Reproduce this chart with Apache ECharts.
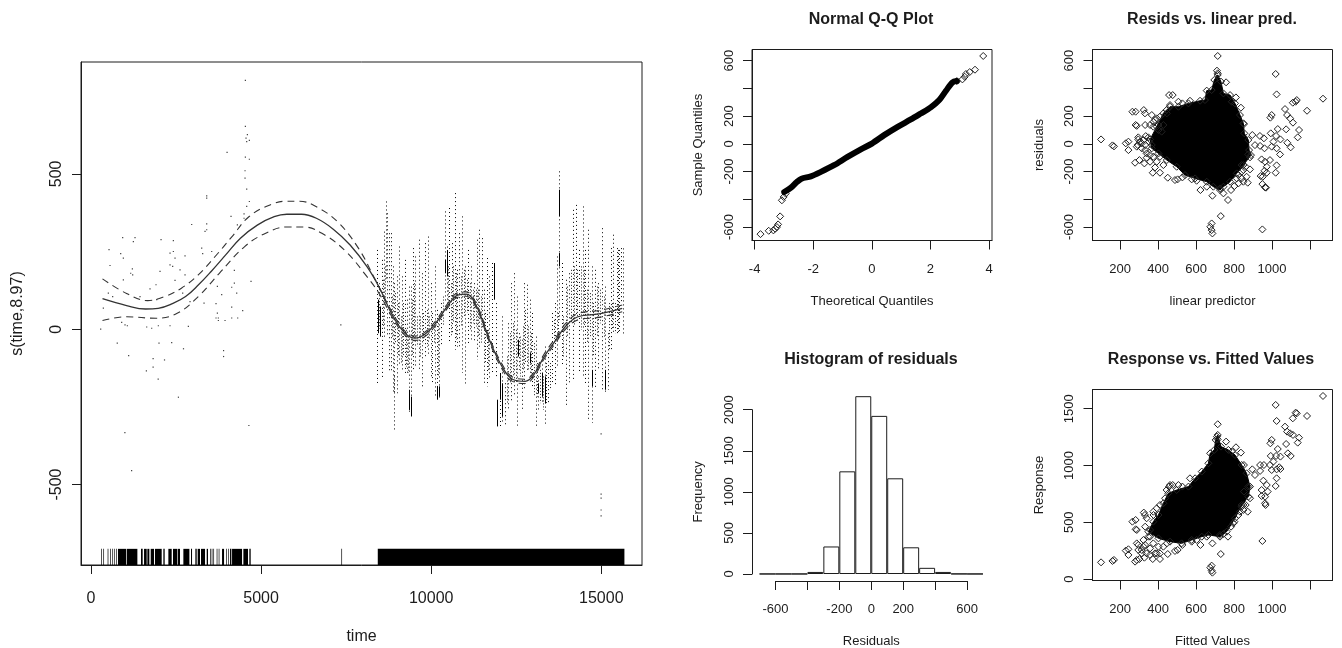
<!DOCTYPE html>
<html><head><meta charset="utf-8">
<style>html,body{margin:0;padding:0;background:#fff}#c{width:1342px;height:648px}</style>
<script src="https://cdn.jsdelivr.net/npm/echarts@6/dist/echarts.min.js"></script>
</head><body><div id="c"></div>
<script>
// ---- main smooth panel
const fitCurve=[[338,98],[1045,76],[1603,65],[1975,67],[2409,83],[2781,105],[3153,142],[3525,185],[3959,239],[4393,293],[4889,335],[5385,362],[5757,370],[6191,370],[6625,357],[7121,322],[7617,271],[8113,201],[8485,132],[8857,46],[9229,-13],[9539,-29],[9787,-19],[10097,14],[10469,73],[10779,110],[11027,113],[11337,73],[11709,-34],[12081,-120],[12391,-161],[12763,-168],[13011,-147],[13321,-88],[13669,-34],[13941,8],[14313,40],[14933,49],[15615,67]];
const upperCurve=[[338,162],[1045,115],[1665,92],[2161,105],[2657,132],[3153,175],[3649,234],[4145,298],[4641,362],[5261,400],[5757,412],[6129,412],[6625,394],[7245,346],[7865,260],[8361,158],[8857,54],[9229,-6],[9539,-22],[9787,-12],[10097,22],[10469,80],[10779,117],[11027,120],[11337,80],[11709,-27],[12081,-112],[12391,-154],[12763,-161],[13011,-140],[13321,-80],[13669,-26],[13941,17],[14313,50],[14933,60],[15615,78]];
const lowerCurve=[[338,28],[1045,40],[1913,35],[2533,51],[3153,105],[3773,180],[4517,266],[5137,309],[5757,329],[6253,329],[6873,303],[7493,250],[8113,169],[8485,112],[8857,38],[9229,-20],[9539,-36],[9787,-26],[10097,7],[10469,66],[10779,103],[11027,106],[11337,66],[11709,-41],[12081,-128],[12391,-168],[12763,-175],[13011,-154],[13321,-96],[13669,-42],[13941,-1],[14313,30],[14933,38],[15615,56]];
const partialDots=[[4538,801],[4538,653],[4597,626],[4557,615],[4577,604],[4655,608],[4000,569],[4538,554],[4655,547],[4528,510],[4528,486],[4577,451],[4655,411],[4577,395],[3401,429],[3401,422],[4116,363],[4499,371],[4499,357],[4303,336],[3401,339],[2960,337],[3401,320],[3352,315],[931,295],[1294,295],[1245,282],[2059,288],[2421,285],[530,256],[873,243],[951,229],[2323,245],[2421,250],[2470,229],[2764,236],[3254,261],[3283,243],[3548,250],[559,205],[1216,194],[1167,180],[1225,175],[2323,207],[2401,202],[2029,186],[2617,191],[2764,175],[4214,189],[951,159],[2470,157],[4704,154],[4214,148],[4136,135],[3715,138],[1911,143],[1735,130],[510,116],[637,105],[363,68],[1441,105],[1931,95],[2695,116],[3842,111],[4283,116],[3323,84],[3675,82],[3715,52],[4136,71],[4459,60],[2911,89],[3675,36],[3744,36],[3744,28],[3940,28],[4136,36],[4312,36],[902,22],[1000,14],[1069,11],[1637,7],[1784,3],[1980,11],[2323,11],[2862,9],[285,0],[772,-45],[1107,-85],[1826,-95],[2161,-99],[1826,-122],[1628,-134],[1975,-161],[1999,-45],[2372,-43],[2719,-63],[3897,-69],[3897,-88],[2570,-219],[4641,-310],[996,-333],[1194,-455],[14995,-337],[14995,-531],[14995,-544],[14995,-582],[14995,-601],[7344,14]];
const sparseStripes=[[8417,255,-174],[8544,223,-163],[8613,314,-24],[8662,411,159],[8711,373,-24],[8760,309,-141],[8809,309,-141],[8867,202,-206],[8907,148,-206],[8907,-152,-324],[8985,170,-206],[9063,266,-120],[9152,170,-131],[9220,223,-141],[9279,95,-141],[9338,137,-270],[9397,137,-281],[9475,261,-131],[9534,234,-120],[9642,288,-131],[9720,180,-184],[9818,277,-88],[9916,298,-88],[9985,148,-152],[10024,52,-174],[10102,202,-217],[10161,62,-227],[10239,41,-227],[10288,84,-56],[10406,379,84],[10475,266,62],[10533,390,-45],[10612,277,-13],[10690,438,-66],[10769,191,-56],[10827,309,-56],[10916,363,-141],[11004,202,-184],[11092,255,-45],[11180,202,-34],[11259,148,-45],[11357,288,-99],[11415,320,-56],[11494,293,-2],[11553,127,-174],[11631,229,-184],[11709,170,-163],[11778,213,-141],[11905,84,-152],[12022,-141,-313],[12091,41,-302],[12169,-174,-313],[12267,19,-260],[12345,148,-238],[12443,180,-217],[12522,105,-313],[12581,-13,-131],[12659,-34,-260],[12718,148,-195],[12816,143,-131],[12894,95,-152],[12973,52,-184],[13071,-24,-313],[13149,-152,-260],[13247,-88,-238],[13345,-56,-313],[13423,-77,-238],[13561,52,-174],[13639,84,-184],[13708,234,-120],[13766,508,30],[13835,213,-120],[13953,159,-249],[14051,180,-174],[14168,384,-163],[14256,400,41],[14345,255,-141],[14452,395,-152],[14521,255,-174],[14609,320,-292],[14717,202,-302],[14815,191,-195],[14913,148,-131],[15021,325,-195],[15119,137,-206],[15187,-13,-195],[15275,261,-66],[15354,304,-13],[15452,261,-13],[15521,255,-13],[15579,261,84],[15640,260,-20]];
const midStripes=[[8475,148,2],[8573,159,9],[8642,202,84],[8838,105,-24],[8946,116,-45],[9024,84,-88],[9103,41,-109],[9181,84,-88],[9250,-2,-120],[9308,-24,-141],[9436,95,-88],[9504,148,-45],[9593,41,-56],[9681,41,-88],[9769,52,-45],[9867,62,-56],[9945,41,-34],[10073,9,-45],[10200,19,-152],[10337,105,9],[10504,202,84],[10573,148,-24],[10651,202,19],[10729,180,-34],[10867,170,9],[10965,191,41],[11043,159,52],[11131,148,-2],[11219,127,19],[11317,127,9],[11386,127,-24],[11464,105,-45],[11592,52,-109],[11670,-2,-131],[12218,-88,-238],[12316,-13,-174],[12394,19,-152],[12483,-2,-174],[12620,-24,-152],[12688,9,-131],[12767,62,-109],[12855,9,-131],[12933,-13,-152],[13012,-45,-217],[13110,-109,-217],[13198,-131,-238],[13296,-152,-260],[13384,-109,-238],[13492,-109,-195],[13600,30,-45],[13737,52,-34],[13884,41,-88],[14002,137,-24],[14109,191,19],[14207,202,9],[14296,191,41],[14394,202,-2],[14492,191,9],[14570,127,-45],[14658,116,-24],[14766,84,-88],[14864,137,-24],[14962,127,19],[15070,105,-24],[15227,84,-66],[15305,84,-2],[15403,84,-13],[15481,255,-13]];
const darkStripes=[[8436,95,-13],[8495,73,-24],[9338,-195,-260],[9397,-217,-281],[10161,-184,-227],[10239,-184,-217],[11846,213,95],[10475,255,170],[10406,223,180],[11924,-227,-313],[12022,-141,-227],[12091,-174,-281],[13766,449,363],[13766,245,202],[14717,-131,-184],[15119,-131,-195],[13247,-141,-217],[13345,-152,-238],[12904,-77,-109],[12561,-34,-88],[13149,-174,-206]];
const rugSpans=[[294,314],[363,383],[490,510],[559,579],[628,648],[687,706],[745,765],[794,1029],[1049,1363],[1470,1519],[1559,1637],[1657,1715],[1755,1853],[1882,2078],[2127,2166],[2274,2372],[2411,2539],[2558,2617],[2715,2892],[2940,2970],[3068,3107],[3136,3205],[3234,3352],[3401,3440],[3499,3519],[3548,3568],[3597,3617],[3695,3715],[3754,3774],[3852,3911],[3969,3989],[4028,4047],[4087,4126],[4146,4440],[4479,4616],[4655,4694],[7360,7380],[8430,15680]];
const rugTop=-707;
const mainXTicks=[0,5000,10000,15000], mainYTicks=[-500,0,500];
// ---- Q-Q panel
const qqLine=[[-2.99,-347],[-2.76,-316],[-2.56,-275],[-2.40,-251],[-2.08,-234],[-1.74,-202],[-1.29,-154],[-0.83,-94],[-0.375,-39],[0,2],[0.42,63],[0.88,123],[1.33,176],[1.67,219],[2.01,263],[2.30,316],[2.53,383],[2.75,443],[2.90,453]];
const qqTails=[[-3.80,-651],[-3.52,-627],[-3.36,-624],[-3.30,-612],[-3.24,-600],[-3.20,-581],[-3.13,-523],[-3.07,-407],[-3.01,-383],[-2.94,-359],[2.90,453],[3.09,465],[3.17,484],[3.21,504],[3.34,518],[3.52,535],[3.80,634]];
const qqXTicks=[-4,-2,0,2,4], residYTicks=[-600,-400,-200,0,200,400,600], residYLabels=[-600,-200,0,200,600];
// ---- residual panel
const residBlob=[[358,32],[393,124],[428,220],[463,268],[507,268],[560,292],[621,311],[647,316],[656,384],[682,388],[696,461],[714,497],[731,449],[744,364],[779,352],[805,292],[831,208],[849,148],[854,76],[875,28],[879,-45],[889,-81],[849,-153],[814,-213],[779,-273],[744,-309],[726,-333],[691,-309],[656,-273],[595,-249],[542,-225],[498,-165],[446,-117],[402,-69],[367,-32]];
const residPoints=[[100,32],[160,-11],[168,-18],[230,4],[244,16],[244,-45],[265,232],[282,232],[279,-136],[302,-117],[328,-141],[340,-100],[358,-81],[282,136],[288,130],[325,244],[331,220],[372,-208],[410,-208],[384,-170],[451,-244],[489,-261],[503,-256],[528,-242],[577,-256],[603,-266],[623,-333],[656,-309],[686,-374],[726,-321],[744,-357],[768,-405],[730,-521],[682,-574],[675,-598],[682,-622],[686,-646],[949,-617],[714,634],[710,528],[714,509],[758,444],[458,352],[477,352],[810,335],[836,261],[788,304],[852,143],[507,304],[528,292],[568,311],[1019,504],[1024,357],[1268,326],[1130,316],[1124,304],[1109,297],[1184,239],[1068,251],[1079,208],[1095,184],[1110,153],[998,208],[991,189],[1030,107],[1074,105],[1142,100],[1135,47],[993,76],[1021,57],[1044,32],[1007,16],[1080,8],[1098,-25],[896,64],[936,57],[957,40],[910,-9],[937,-15],[960,-32],[998,-20],[1024,-32],[1042,-76],[945,-112],[963,-129],[989,-117],[1024,-155],[1019,-208],[972,-165],[960,-194],[972,-208],[940,-232],[951,-237],[949,-290],[963,-314],[968,-316],[784,-333],[802,-304],[823,-285],[849,-273],[872,-280],[884,-184],[861,-165],[840,-201],[884,-97],[875,-76],[296,32],[288,-20],[314,4],[332,-45],[335,56],[353,16],[393,184],[402,136],[367,208],[376,160],[445,244],[463,280],[296,47],[305,16],[293,-8],[323,28],[314,-32],[332,-8],[349,47],[367,-8],[340,-69],[375,-93],[358,-129],[393,-129],[410,-93],[428,-153],[384,172],[410,196],[428,136],[446,220],[419,88],[402,100],[358,136],[332,136],[375,124],[849,-189],[823,-225],[840,-153],[814,-249],[866,-237],[840,-249]];
const fittedXTicks=[200,400,600,800,1000,1200], fittedXLabels=[200,400,600,800,1000];
// ---- response panel
const responseBlob=[[349,417],[375,505],[402,564],[428,667],[454,755],[498,784],[560,814],[595,887],[630,946],[665,1019],[674,1107],[696,1137],[703,1225],[714,1269],[731,1166],[770,1137],[805,1092],[840,1004],[866,931],[884,814],[875,725],[840,652],[805,535],[761,417],[726,373],[665,388],[630,373],[577,344],[524,314],[463,329],[402,358]];
const responsePoints=[[100,147],[160,159],[168,168],[230,250],[244,262],[244,212],[265,505],[282,520],[282,438],[288,432],[279,153],[302,176],[328,188],[340,226],[358,270],[296,300],[325,585],[331,564],[372,176],[410,226],[384,226],[410,176],[451,220],[489,247],[503,256],[528,300],[577,329],[603,344],[623,300],[656,373],[686,314],[726,388],[744,397],[768,373],[730,220],[682,118],[675,100],[682,74],[686,56],[949,335],[714,1363],[710,1254],[714,1230],[758,1210],[458,814],[477,828],[810,1160],[836,1113],[788,1122],[852,1004],[507,828],[528,814],[568,887],[1019,1533],[1268,1612],[1024,1392],[1130,1459],[1124,1465],[1109,1415],[1184,1436],[1068,1342],[1079,1298],[1095,1283],[1110,1269],[1142,1245],[1135,1201],[998,1225],[991,1195],[1030,1145],[1074,1189],[1083,1107],[1098,1084],[993,1084],[1021,1084],[1044,1078],[1007,1034],[1038,984],[1044,969],[896,966],[937,1004],[957,1004],[989,1004],[910,916],[937,952],[998,960],[1024,966],[954,866],[972,828],[945,731],[963,667],[966,652],[1024,887],[1019,819],[945,784],[977,770],[963,725],[784,461],[802,505],[823,564],[849,608],[872,593],[884,711],[861,652],[840,637],[852,770],[875,814],[445,784],[463,828],[393,623],[376,564],[349,373],[323,285],[288,168],[314,226],[358,212],[393,226],[288,314],[296,256],[323,344],[332,300],[314,256],[358,373],[375,314],[402,285],[428,285],[446,314],[358,432],[332,461],[340,535],[375,593],[410,652],[437,711],[849,652],[796,491],[831,593]];
const responseYTicks=[0,500,1000,1500];
// ---- histogram
const histBins=["-650","-550","-450","-350","-250","-150","-50","50","150","250","350","450","550","650"];
const histCounts=[1,1,1,25,335,1250,2165,1925,1165,325,75,25,2,1];
const histXTicks=[-600,-400,-200,0,200,400,600], histXLabels=[-600,-200,0,200,600], histYTicks=[0,500,1000,1500,2000];

const INK='#1c1c1c', FONT='"Liberation Sans",Arial,sans-serif';
const labelSize=13;
const plainNum=v=>String(v);
function xAx(gi,min,max,ticks,labels,name,labelMargin,nameGap,size){
  return {type:'value',gridIndex:gi,min,max,position:'bottom',splitLine:{show:false},
    axisLine:{show:true,onZero:false,lineStyle:{color:INK}},
    axisTick:{show:true,length:9,inside:false,customValues:ticks,lineStyle:{color:INK}},
    axisLabel:{show:true,customValues:labels,formatter:plainNum,margin:labelMargin,color:INK,fontFamily:FONT,fontSize:size||labelSize,hideOverlap:false,showMinLabel:true,showMaxLabel:true},
    name,nameLocation:'middle',nameGap,nameTextStyle:{color:INK,fontFamily:FONT,fontSize:size||labelSize}};
}
function yAx(gi,min,max,ticks,labels,name,labelMargin,nameGap,size){
  return {type:'value',gridIndex:gi,min,max,position:'left',splitLine:{show:false},
    axisLine:{show:true,onZero:false,lineStyle:{color:INK}},
    axisTick:{show:true,length:9,customValues:ticks,lineStyle:{color:INK}},
    axisLabel:{show:true,customValues:labels,formatter:plainNum,rotate:90,margin:labelMargin,color:INK,fontFamily:FONT,fontSize:size||labelSize,hideOverlap:false,verticalAlign:'middle',align:'center'},
    name,nameLocation:'middle',nameGap,nameRotate:90,nameTextStyle:{color:INK,fontFamily:FONT,fontSize:size||labelSize}};
}
const hidden=(gi,min,max)=>({type:'value',gridIndex:gi,min,max,show:false});
const boxed=(left,top,width,height)=>({left,top,width,height,show:true,borderColor:INK,borderWidth:1,backgroundColor:'transparent',containLabel:false,outerBoundsMode:'none'});
const plain=(left,top,width,height)=>({left,top,width,height,show:false,containLabel:false,outerBoundsMode:'none'});

const stripe=(dash,color)=>function(p,api){
  const a=api.coord([api.value(0),api.value(1)]), b=api.coord([api.value(0),api.value(2)]);
  return {type:'line',shape:{x1:Math.round(a[0])+.5,y1:a[1],x2:Math.round(a[0])+.5,y2:b[1]},style:{stroke:color,lineWidth:1,lineDash:dash,fill:null}};
};
const rugItem=function(p,api){
  const a=api.coord([api.value(0),rugTop]), b=api.coord([api.value(1),-759]);
  return {type:'rect',shape:{x:a[0],y:a[1],width:Math.max(b[0]-a[0],.6),height:b[1]-a[1]},style:{fill:'#000'}};
};
const blobItem=blob=>function(p,api){
  if(p.dataIndex!==0) return null;
  return {type:'polygon',shape:{points:blob.map(v=>api.coord(v))},style:{fill:'#000',stroke:'#000',lineWidth:1}};
};
const diamonds=(data,xi,yi)=>({type:'scatter',xAxisIndex:xi,yAxisIndex:yi,data,symbol:'diamond',symbolSize:7,silent:true,
  itemStyle:{color:'rgba(0,0,0,0)',borderColor:'#222',borderWidth:1,opacity:1}});
const curve=(data,dash,w,col)=>({type:'line',xAxisIndex:0,yAxisIndex:0,data,smooth:.4,showSymbol:false,symbol:'none',silent:true,z:6,
  lineStyle:{color:col,width:w,type:dash}});
const titleStyle={fontFamily:FONT,fontSize:16,fontWeight:'bold',color:INK};

const option={animation:false,backgroundColor:'#fff',
 title:[
  {text:'Normal Q-Q Plot',left:866,top:7,textAlign:'center',textStyle:titleStyle},
  {text:'Resids vs. linear pred.',left:1207,top:7,textAlign:'center',textStyle:titleStyle},
  {text:'Histogram of residuals',left:866,top:347,textAlign:'center',textStyle:titleStyle},
  {text:'Response vs. Fitted Values',left:1206,top:347,textAlign:'center',textStyle:titleStyle}
 ],
 grid:[boxed(81,62,561,503),boxed(752,49.5,240,191),boxed(1092.5,49.5,240,191),boxed(1092.5,389.5,240,191),
       plain(759.5,393.3,223.5,180.7),plain(752,409.7,10,164.3),plain(775.5,571,191.6,10)],
 xAxis:[
  xAx(0,-294,16197,mainXTicks,mainXTicks,'time',26,64,16),
  xAx(1,-4.09,4.10,qqXTicks,qqXTicks,'Theoretical Quantiles',22,54),
  xAx(2,55,1318,fittedXTicks,fittedXLabels,'linear predictor',22,54),
  xAx(3,55,1318,fittedXTicks,fittedXLabels,'Fitted Values',22,54),
  {type:'category',gridIndex:4,data:histBins,show:false,boundaryGap:true},
  hidden(5,0,1),
  xAx(6,-600,600,histXTicks,histXLabels,'Residuals',22,54)
 ],
 yAxis:[
  yAx(0,-759,860,mainYTicks,mainYTicks,'s(time,8.97)',24,55,16),
  yAx(1,-697,680.7,residYTicks,residYLabels,'Sample Quantiles',23,47),
  yAx(2,-697,680.7,residYTicks,residYLabels,'residuals',23,47),
  yAx(3,-13,1669,responseYTicks,responseYTicks,'Response',23,47),
  {type:'value',gridIndex:4,min:0,max:2200,show:false},
  yAx(5,0,2000,histYTicks,histYTicks,'Frequency',23,47),
  {type:'value',gridIndex:6,min:0,max:1,show:false}
 ],
 series:[
  {type:'custom',xAxisIndex:0,yAxisIndex:0,data:sparseStripes,renderItem:stripe([1,3],'#000'),encode:{x:0,y:[1,2]},silent:true,z:3},
  {type:'custom',xAxisIndex:0,yAxisIndex:0,data:midStripes,renderItem:stripe([1,2],'#222'),encode:{x:0,y:[1,2]},silent:true,z:3},
  {type:'custom',xAxisIndex:0,yAxisIndex:0,data:darkStripes,renderItem:stripe([],'#000'),encode:{x:0,y:[1,2]},silent:true,z:4},
  {type:'scatter',xAxisIndex:0,yAxisIndex:0,data:partialDots,symbol:'rect',symbolSize:1.2,silent:true,itemStyle:{color:'#111'},z:3},
  {type:'custom',xAxisIndex:0,yAxisIndex:0,data:rugSpans,renderItem:rugItem,encode:{x:[0,1]},silent:true,z:4},
  curve(fitCurve,'solid',1.3,'#333'),
  curve(upperCurve,[7,5],1.1,'#333'),
  curve(lowerCurve,[7,5],1.1,'#333'),
  {type:'line',xAxisIndex:1,yAxisIndex:1,data:qqLine,smooth:.3,symbol:'none',silent:true,lineStyle:{color:'#000',width:6,cap:'round'}},
  diamonds(qqTails,1,1),
  {type:'custom',xAxisIndex:2,yAxisIndex:2,data:residBlob,renderItem:blobItem(residBlob),encode:{x:0,y:1},silent:true,z:2},
  diamonds(residBlob,2,2),diamonds(residPoints,2,2),
  {type:'custom',xAxisIndex:3,yAxisIndex:3,data:responseBlob,renderItem:blobItem(responseBlob),encode:{x:0,y:1},silent:true,z:2},
  diamonds(responseBlob,3,3),diamonds(responsePoints,3,3),
  {type:'bar',xAxisIndex:4,yAxisIndex:4,data:histCounts,barCategoryGap:'0%',silent:true,itemStyle:{color:'#fff',borderColor:INK,borderWidth:1}},
  {type:'scatter',xAxisIndex:5,yAxisIndex:5,data:[]},
  {type:'scatter',xAxisIndex:6,yAxisIndex:6,data:[]}
 ]
};
const chart=echarts.init(document.getElementById('c'),null,{renderer:'canvas',width:1342,height:648});
chart.setOption(option);
</script></body></html>
